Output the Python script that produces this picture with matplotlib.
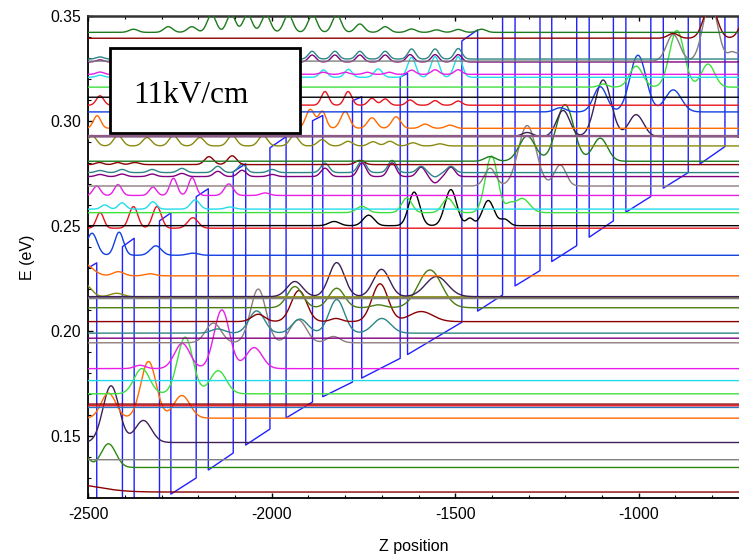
import numpy as np
import matplotlib
matplotlib.use("Agg")
import matplotlib.pyplot as plt
from matplotlib.patches import Rectangle
from matplotlib.ticker import MultipleLocator

# ---------------- data ----------------
# conduction band: interface positions and well-bottom energy there (eV)
cb_z = [-2500, -2477, -2407, -2375, -2306, -2275, -2206, -2173, -2105, -2071,
        -2005, -1961, -1889, -1861, -1780, -1755, -1650, -1630, -1482, -1439,
        -1371, -1337, -1269, -1237, -1169, -1135, -1069, -1035, -967, -933,
        -865, -833, -765, -729, -720]
cb_edge = [0.0960, 0.0984, 0.1061, 0.1101, 0.1184, 0.1222, 0.1299, 0.1337,
           0.1418, 0.1456, 0.1532, 0.1585, 0.1661, 0.1686, 0.1756, 0.1775,
           0.1869, 0.1887, 0.2041, 0.2094, 0.2171, 0.2214, 0.2287, 0.2330,
           0.2406, 0.2446, 0.2524, 0.2565, 0.2640, 0.2680, 0.2754, 0.2795,
           0.2878, 0.2922, 0.2933]
barrier_height = 0.134   # first layer (left of -2477) is a barrier, then alternating

# wavefunction levels (eV) and their bumps: (z centre, height eV, width)
levels = [0.1232, 0.1349, 0.1386, 0.1468, 0.1584, 0.1635, 0.1643, 0.1651,
          0.1700, 0.1763, 0.1820, 0.1943, 0.1965, 0.1989, 0.2044, 0.2110,
          0.2156, 0.2162, 0.2163, 0.2262, 0.2360, 0.2489, 0.2501, 0.2563,
          0.2580, 0.2645, 0.2690, 0.2735, 0.2754, 0.2792, 0.2808, 0.2881,
          0.2925, 0.2928, 0.2965, 0.3043, 0.3075, 0.3113, 0.3161, 0.3208,
          0.3222, 0.3281, 0.3285, 0.3295, 0.3394, 0.3422]

bumps = [
    [(-2560, 0.004, 80)],
    [(-2520, 0.008, 18), (-2445, 0.0113, 20)],
    [],
    [(-2438, 0.027, 22), (-2350, 0.0105, 22)],
    [(-2445, 0.0119, 20), (-2336, 0.027, 21), (-2245, 0.0108, 22)],
    [],
    [],
    [],
    [(-2354, 0.012, 21), (-2236, 0.027, 21), (-2146, 0.011, 22)],
    [],
    [(-2359, 0.0016, 15), (-2244, 0.012, 21), (-2136, 0.028, 21), (-2048, 0.010, 22)],
    [(-2159, 0.0094, 21), (-2037, 0.0256, 21), (-1928, 0.011, 22), (-1832, 0.003, 18)],
    [],
    [(-2147, 0.002, 18), (-2041, 0.0106, 21), (-1923, 0.0067, 21), (-1823, 0.016, 21), (-1700, 0.007, 24)],
    [(-2037, 0.0035, 18), (-1926, 0.0148, 21), (-1825, 0.0015, 15), (-1705, 0.018, 22), (-1593, 0.0048, 32)],
    [(-1937, 0.0101, 21), (-1823, 0.0093, 21), (-1710, 0.0014, 18), (-1569, 0.018, 32)],
    [],
    [(-2510, 0.006, 18), (-2423, 0.0017, 18)],
    [(-1937, 0.0072, 21), (-1823, 0.0162, 21), (-1701, 0.013, 22), (-1551, 0.0096, 30)],
    [(-2515, 0.006, 25), (-2418, 0.002, 15), (-2332, 0.001, 15)],
    [(-2490, 0.0105, 14), (-2416, 0.011, 12), (-2316, 0.0045, 15), (-2215, 0.001, 15)],
    [(-2468, 0.0075, 10), (-2377, 0.0103, 12), (-2313, 0.0103, 12), (-2215, 0.005, 14)],
    [(-1830, 0.002, 15), (-1736, 0.005, 15), (-1612, 0.016, 15), (-1512, 0.0172, 16),
     (-1460, 0.0035, 10), (-1410, 0.012, 16), (-1365, 0.003, 12)],
    [(-1754, 0.003, 15), (-1632, 0.007, 14), (-1520, 0.0068, 15), (-1401, 0.027, 17),
     (-1352, 0.003, 10), (-1318, 0.0068, 20)],
    [(-2455, 0.002, 10), (-2408, 0.003, 10), (-2324, 0.0035, 10), (-2209, 0.0044, 12), (-2114, 0.001, 12)],
    [(-2477, 0.0045, 10), (-2419, 0.0052, 10), (-2324, 0.004, 10), (-2268, 0.0082, 10),
     (-2217, 0.0085, 10), (-2117, 0.0055, 12), (-2018, 0.0012, 12)],
    [(-1405, 0.0085, 15), (-1304, 0.0288, 24), (-1214, 0.010, 16)],
    [(-2468, 0.001, 11), (-2408, 0.0012, 11), (-2326, 0.0012, 11), (-2245, 0.0015, 11),
     (-2147, 0.0025, 11), (-2081, 0.003, 11), (-1999, 0.001, 11), (-1855, 0.004, 11),
     (-1754, 0.0065, 11), (-1672, 0.0065, 11), (-1593, 0.0045, 11), (-1555, -0.003, 11),
     (-1512, 0.0045, 11)],
    [(-2468, 0.001, 11), (-2408, 0.0015, 11), (-2326, 0.0015, 11), (-2245, 0.002, 11),
     (-2147, 0.003, 11), (-2081, 0.004, 11), (-1999, 0.0015, 11), (-1855, 0.0045, 11),
     (-1754, 0.0058, 11), (-1672, 0.0058, 11), (-1593, 0.003, 11), (-1555, -0.002, 11),
     (-1512, 0.003, 11)],
    [(-2470, 0.001, 10), (-2420, 0.001, 10), (-2373, 0.001, 12), (-2171, 0.0038, 12),
     (-2108, 0.0042, 12), (-1760, 0.002, 12)],
    [(-1405, 0.0022, 15), (-1304, 0.012, 22), (-1201, 0.027, 24), (-1105, 0.011, 20)],
    [(-2490, 0.005, 12), (-2419, 0.005, 12), (-2340, 0.004, 12), (-2268, 0.005, 12),
     (-2196, 0.004, 12), (-2108, 0.005, 12), (-2024, 0.005, 12), (-1939, 0.005, 12),
     (-1863, 0.003, 12), (-1792, 0.0022, 12), (-1724, 0.002, 12), (-1678, 0.0022, 12),
     (-1615, 0.0015, 12), (-1542, 0.001, 12)],
    [(-1304, 0.002, 15), (-1206, 0.0125, 18), (-1097, 0.027, 22), (-1007, 0.0105, 20)],
    [],
    [(-2476, 0.006, 10), (-1895, 0.009, 12), (-1862, 0.008, 10), (-1800, 0.008, 12),
     (-1727, 0.005, 12), (-1661, 0.0055, 12), (-1582, 0.002, 12), (-1514, 0.0015, 12)],
    [(-1214, 0.002, 15), (-1105, 0.012, 18), (-1002, 0.027, 22), (-906, 0.0105, 22)],
    [(-2468, 0.0045, 10), (-1855, 0.0065, 10), (-1792, 0.0065, 10), (-1727, 0.0033, 10),
     (-1691, 0.003, 10), (-1623, 0.0025, 10), (-1555, 0.0022, 10), (-1492, 0.002, 10)],
    [],
    [(-1097, 0.0015, 12), (-1007, 0.010, 18), (-896, 0.027, 20), (-811, 0.011, 18)],
    [(-2468, 0.001, 10), (-1859, 0.0035, 10), (-1791, 0.0038, 10), (-1710, 0.004, 11),
     (-1619, 0.0095, 11), (-1555, 0.0098, 11), (-1492, 0.0098, 11)],
    [(-2468, 0.0011, 10), (-1860, 0.001, 10), (-1800, 0.001, 10), (-1740, 0.001, 10),
     (-1680, 0.001, 10), (-1619, 0.002, 10), (-1555, 0.0022, 10), (-1492, 0.0022, 10)],
    [(-2468, 0.001, 10), (-1890, 0.0033, 10), (-1828, 0.0033, 10), (-1760, 0.0033, 10),
     (-1691, 0.0033, 10), (-1623, 0.0035, 10), (-1555, 0.0035, 10), (-1492, 0.0035, 10)],
    [(-906, 0.0127, 18), (-805, 0.028, 20), (-745, 0.004, 12), (-690, 0.025, 18)],
    [(-2468, 0.001, 10), (-1890, 0.0037, 10), (-1828, 0.0037, 10), (-1760, 0.0037, 10),
     (-1691, 0.0037, 10), (-1619, 0.0048, 10), (-1555, 0.0048, 10), (-1492, 0.005, 10)],
    [(-906, 0.0023, 14), (-805, 0.016, 18), (-700, 0.015, 18)],
    [(-2377, 0.0015, 12), (-2282, 0.0027, 12), (-2218, 0.0027, 12), (-2164, 0.0085, 12),
     (-2111, 0.0085, 12), (-2066, 0.0085, 12), (-2016, 0.0085, 12), (-1955, 0.0085, 12),
     (-1889, 0.0085, 12), (-1823, 0.0085, 12), (-1760, 0.004, 12), (-1691, 0.0027, 12),
     (-1619, 0.0016, 12), (-1551, 0.0012, 12), (-1492, 0.0014, 12), (-1428, 0.0015, 12)],
]

# ---------------- styles ----------------
DKRED, GREEN, GRAY, INDIGO, ORANGE = "#8b0000", "#2b8a0e", "#808080", "#3d2058", "#ff6a00"
STEEL, RED, LIME, CYAN, MAGENTA = "#2878c8", "#e8141e", "#3ee03e", "#22dcea", "#e81ee8"
PURPLE, TEAL, OLIVEG, OLIVE, BLUE = "#800080", "#2e8585", "#4a7d12", "#8a8a10", "#1040e0"
GMAUVE, DKGREEN, MAUVE = "#8e7c80", "#1e7a1e", "#8c5a84"
colors = [DKRED, GREEN, GRAY, INDIGO, ORANGE, STEEL, RED, DKRED,
          LIME, CYAN, MAGENTA, GMAUVE, PURPLE, TEAL, DKRED, OLIVEG,
          GRAY, OLIVE, INDIGO, ORANGE, BLUE, RED, "black", LIME,
          CYAN, MAGENTA, GMAUVE, PURPLE, TEAL, DKRED, DKGREEN, OLIVE,
          INDIGO, MAUVE, ORANGE, BLUE, RED, "black", LIME, CYAN,
          MAGENTA, PURPLE, GRAY, TEAL, DKRED, DKGREEN]
thick = {16: 1.7, 33: 1.7}

plt.rcParams["font.family"] = ["Liberation Sans", "DejaVu Sans"]
plt.rcParams["axes.unicode_minus"] = False
fig = plt.figure(figsize=(7.39, 5.56), dpi=100)
ax = fig.add_axes([88.3 / 739, (556 - 497.7) / 556, (739 - 88.3) / 739, (497.7 - 16) / 556])
xmin, xmax = -2500, -726.7
ax.set_xlim(xmin, xmax)
ax.set_ylim(0.1205, 0.35)

# conduction band profile
px, py = [], []
for i in range(len(cb_z) - 1):
    off = barrier_height if i % 2 == 0 else 0.0
    px += [cb_z[i], cb_z[i + 1]]
    py += [cb_edge[i] + off, cb_edge[i + 1] + off]
ax.plot(px, py, color="#2020ff", lw=1.0, zorder=2)

# wavefunctions
z = np.linspace(xmin, xmax, 3000)
for i, (e, bl) in enumerate(zip(levels, bumps)):
    y = np.full_like(z, e)
    for c, h, s in bl:
        y += h * np.exp(-((z - c) ** 2) / (2 * s * s))
    ax.plot(z, y, color=colors[i], lw=thick.get(i, 1.0), zorder=3)

# annotation box
ax.add_patch(Rectangle((0.0333, 0.7577), 0.292, 0.1753, transform=ax.transAxes,
                       facecolor="white", edgecolor="black", lw=2.0, zorder=10))
ax.text(0.069, 0.8194, "11kV/cm", transform=ax.transAxes, fontsize=22.5,
        family=["Liberation Serif", "DejaVu Serif"], va="baseline", ha="left", zorder=11)

# axes cosmetics
ax.xaxis.set_major_locator(MultipleLocator(500))
ax.xaxis.set_minor_locator(MultipleLocator(100))
ax.yaxis.set_major_locator(MultipleLocator(0.05))
ax.yaxis.set_minor_locator(MultipleLocator(0.01))
ax.yaxis.set_major_formatter(plt.FuncFormatter(lambda v, p: f"{v:.2f}"))
ax.tick_params(which="both", direction="in", top=True, right=False, labelsize=11.3)
ax.tick_params(which="major", length=3.5, width=1.0, pad=5)
ax.tick_params(which="minor", length=2, width=0.8)
ax.tick_params(axis="x", pad=7)
ax.spines["right"].set_visible(False)
for sp in ("left", "bottom"):
    ax.spines[sp].set_linewidth(1.3)
ax.spines["top"].set_linewidth(1.8)
ax.spines["top"].set_color("#333333")
ax.set_xlabel("Z position", fontsize=11.5, labelpad=12)
ax.set_ylabel("E (eV)", fontsize=11.5, labelpad=11)

fig.savefig("out.png", dpi=100)
